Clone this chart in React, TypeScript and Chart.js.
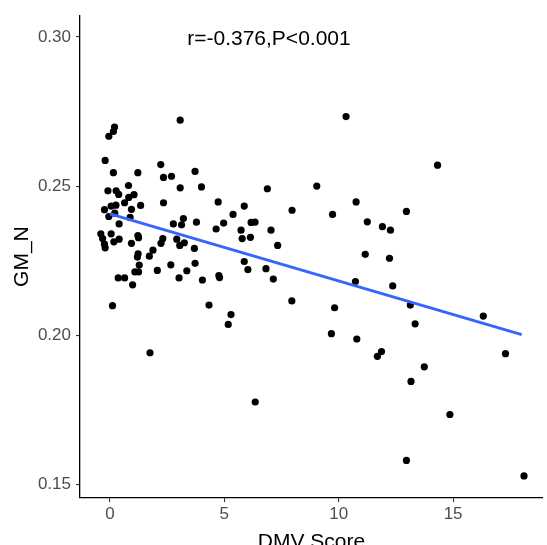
import React, { useEffect, useRef } from "react";
import { Chart, registerables } from "chart.js";

Chart.register(...registerables);

const dmvScore: number[] = [
  0.2, 0.15, -0.05, -0.21, 0.15, 1.22, 0.81, -0.09, 0.27, 0.38, 1.05, 0.82, 0.64, 0.26, 0.05, 1.34, 0.94, -0.24, 0.21, -0.05,
  0.88, 0.4, -0.4, -0.32, 0.05, -0.21, -0.24, 0.17, 0.4, 1.22, 1.25, 0.94, 1.23, 1.2, 1.28, 1.09, 1.25, 0.36, 0.64, 0.99,
  0.11, 1.72, 1.88, 1.75,
  3.07, 2.22, 2.34, 2.69, 3.72, 3.07, 4.0, 2.34, 2.77, 3.21, 3.13, 3.78, 2.31, 2.23, 2.92, 3.25, 3.05, 3.69, 3.72, 2.66,
  2.07, 3.36, 3.02, 4.04, 4.33, 5.29, 5.17, 6.35, 4.73, 5.87, 5.38, 4.97, 4.64, 5.73, 5.78, 6.14, 6.17, 6.34, 5.87, 6.03,
  4.76, 4.79, 6.88, 7.04, 7.33, 6.82, 7.14, 7.96, 7.95,
  9.04, 10.32, 9.73, 10.76, 11.25, 11.91, 12.26, 12.96, 11.16, 12.22, 10.73, 12.36, 9.82, 13.13, 13.34, 9.68, 10.79, 11.87,
  11.69, 13.74, 13.16, 14.32, 16.32, 17.29, 14.86, 12.96, 18.1,
];

const gmN: number[] = [
  0.2698, 0.2683, 0.2667, 0.2586, 0.2545, 0.2545, 0.2502, 0.2484, 0.2484, 0.2472, 0.2471, 0.2462, 0.2444, 0.2436, 0.2433,
  0.2435, 0.2422, 0.2421, 0.2409, 0.2398, 0.2395, 0.2373, 0.234, 0.2324, 0.234, 0.2293, 0.2305, 0.2313, 0.2322, 0.2334,
  0.2327, 0.2308, 0.2273, 0.2262, 0.2235, 0.2212, 0.2212, 0.2192, 0.2192, 0.2169, 0.2099, 0.2265, 0.2285, 0.1941,
  0.2721, 0.2572, 0.2529, 0.2533, 0.2549, 0.2494, 0.2497, 0.2444, 0.2373, 0.2391, 0.237, 0.2379, 0.2324, 0.2308, 0.2322,
  0.231, 0.2301, 0.2291, 0.2241, 0.2236, 0.2217, 0.2216, 0.2192, 0.2185, 0.2101, 0.2069, 0.2036, 0.1776, 0.2447, 0.2433,
  0.2405, 0.2376, 0.2356, 0.2352, 0.2324, 0.2328, 0.2378, 0.2379, 0.2247, 0.222, 0.22, 0.2193, 0.2491, 0.2352, 0.2301,
  0.2223, 0.2188, 0.2419, 0.2115,
  0.25, 0.2733, 0.2405, 0.2447, 0.238, 0.2364, 0.2352, 0.2415, 0.2271, 0.2258, 0.218, 0.2165, 0.2092, 0.2101, 0.2038,
  0.2005, 0.1987, 0.1945, 0.1929, 0.1894, 0.1845, 0.257, 0.2064, 0.1938, 0.1734, 0.158, 0.1528,
];

const fitX: number[] = [0, 18.0];
const fitY: number[] = [0.2407, 0.2002];

const xTicks: number[] = [0, 5, 10, 15];
const yTicks: number[] = [0.15, 0.2, 0.25, 0.3];

const annotationText = "r=-0.376,P<0.001";
const annotationPos = { x: 6.95, y: 0.2993 };
const xTitle = "DMV Score";
const yTitle = "GM_N";

const FONT = "'Liberation Sans', Arial, sans-serif";

export default function App() {
  const ref = useRef<HTMLCanvasElement | null>(null);

  useEffect(() => {
    if (!ref.current) return;

    const overlay = {
      id: "overlay",
      afterDraw(chart: any) {
        const ctx = chart.ctx;
        const xs = chart.scales.x;
        const ys = chart.scales.y;
        const area = chart.chartArea;
        ctx.save();
        ctx.fillStyle = "#000000";
        ctx.font = `21px ${FONT}`;
        ctx.textAlign = "center";
        ctx.textBaseline = "middle";
        ctx.fillText(annotationText, xs.getPixelForValue(annotationPos.x), ys.getPixelForValue(annotationPos.y));
        // x title
        ctx.textBaseline = "alphabetic";
        ctx.fillText(xTitle, (area.left + area.right) / 2, 548);
        // y title
        ctx.translate(22, (area.top + area.bottom) / 2);
        ctx.rotate(-Math.PI / 2);
        ctx.textBaseline = "middle";
        ctx.fillText(yTitle, 0, 0);
        ctx.restore();
      },
    };

    const chart = new Chart(ref.current, {
      type: "scatter",
      data: {
        datasets: [
          {
            type: "line",
            label: "fit",
            data: fitX.map((x, i) => ({ x, y: fitY[i] })),
            borderColor: "#3366FF",
            borderWidth: 2.8,
            pointRadius: 0,
            fill: false,
            order: 0,
          } as any,
          {
            label: "points",
            data: dmvScore.map((x, i) => ({ x, y: gmN[i] })),
            backgroundColor: "#000000",
            borderWidth: 0,
            pointRadius: 3.6,
            order: 1,
          },
        ],
      },
      options: {
        animation: false,
        responsive: true,
        maintainAspectRatio: false,
        layout: { padding: { top: 12, right: 3, left: 0, bottom: 0 } },
        plugins: {
          legend: { display: false },
          tooltip: { enabled: false },
        },
        scales: {
          x: {
            type: "linear",
            min: -1.31,
            max: 18.93,
            afterBuildTicks: (s: any) => {
              s.ticks = xTicks.map((v) => ({ value: v }));
            },
            afterFit: (s: any) => {
              s.height = 47;
            },
            ticks: {
              color: "#4D4D4D",
              font: { family: FONT, size: 17 },
              padding: 2,
              maxRotation: 0,
              callback: (v: any) => String(v),
            },
            grid: {
              display: true,
              drawOnChartArea: false,
              drawTicks: true,
              tickLength: 4,
              color: "#333333",
              lineWidth: 1.1,
            },
            border: { display: true, color: "#000000", width: 1.3 },
          },
          y: {
            type: "linear",
            min: 0.1454,
            max: 0.3073,
            afterBuildTicks: (s: any) => {
              s.ticks = yTicks.map((v) => ({ value: v }));
            },
            afterFit: (s: any) => {
              s.width = 80;
            },
            ticks: {
              color: "#4D4D4D",
              font: { family: FONT, size: 17 },
              padding: 5,
              callback: (v: any) => Number(v).toFixed(2),
            },
            grid: {
              display: true,
              drawOnChartArea: false,
              drawTicks: true,
              tickLength: 4,
              color: "#333333",
              lineWidth: 1.1,
            },
            border: { display: true, color: "#000000", width: 1.3 },
          },
        },
      },
      plugins: [overlay],
    });

    return () => chart.destroy();
  }, []);

  return (
    <div style={{ position: "fixed", left: 0, top: 0, width: 547, height: 545, background: "#ffffff" }}>
      <canvas ref={ref} />
    </div>
  );
}
